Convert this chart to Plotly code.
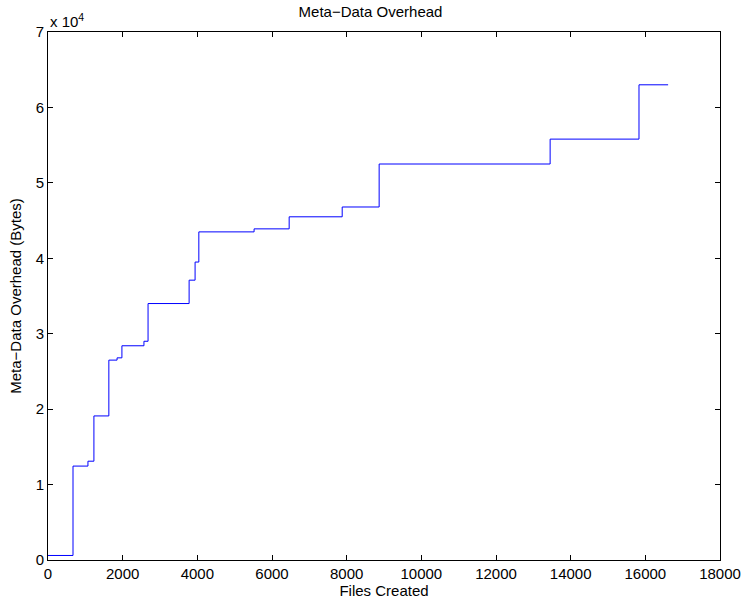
import plotly.graph_objects as go

files_created = [0, 670, 1070, 1230, 1630, 1850, 1980, 2570, 2680, 3780, 3940, 4040,
                 5520, 6460, 7880, 8870, 13450, 15830, 16610]
overhead_bytes = [600, 12450, 13100, 19100, 26500, 26800, 28400, 29000, 34000, 37100, 39500, 43500,
                  43900, 45500, 46800, 52500, 55800, 63000, 63000]

x_ticks = [0, 2000, 4000, 6000, 8000, 10000, 12000, 14000, 16000, 18000]
y_ticks = [0, 10000, 20000, 30000, 40000, 50000, 60000, 70000]
y_tick_text = ["0", "1", "2", "3", "4", "5", "6", "7"]

font = dict(family="Liberation Sans, Arial, Helvetica, sans-serif", size=15, color="black")

fig = go.Figure()
fig.add_trace(go.Scatter(
    x=files_created, y=overhead_bytes, mode="lines",
    line=dict(color="#0000ff", width=1, shape="hv"),
    showlegend=False, hoverinfo="skip"))

axis_common = dict(showline=True, linecolor="black", linewidth=1, mirror="allticks",
                   ticks="inside", ticklen=5, tickcolor="black", showgrid=False,
                   zeroline=False, tickfont=font, automargin=False)

fig.update_layout(
    width=741, height=601,
    margin=dict(l=48, r=21, t=32, b=41, autoexpand=False),
    paper_bgcolor="white", plot_bgcolor="white",
    font=font,
    title=dict(text="Meta\u2212Data Overhead", x=0.5, xanchor="center",
               y=1 - 12 / 601, yanchor="middle", font=font, automargin=False),
    xaxis=dict(range=[0, 18000], tickvals=x_ticks,
               ticktext=[str(v) for v in x_ticks],
               title=dict(text="Files Created", font=font, standoff=0), **axis_common),
    yaxis=dict(range=[0, 70000], tickvals=y_ticks, ticktext=y_tick_text,
               title=dict(text="Meta\u2212Data Overhead (Bytes)", font=font, standoff=10),
               **axis_common),
    annotations=[dict(text="x 10<sup>4</sup>", xref="paper", yref="paper",
                      x=0, y=1, xanchor="left", yanchor="bottom", showarrow=False,
                      font=font, xshift=0, yshift=0)],
)

fig.write_html("out.html", config={"displayModeBar": False},
               post_script="document.body.style.margin='0';document.body.style.overflow='hidden';")
